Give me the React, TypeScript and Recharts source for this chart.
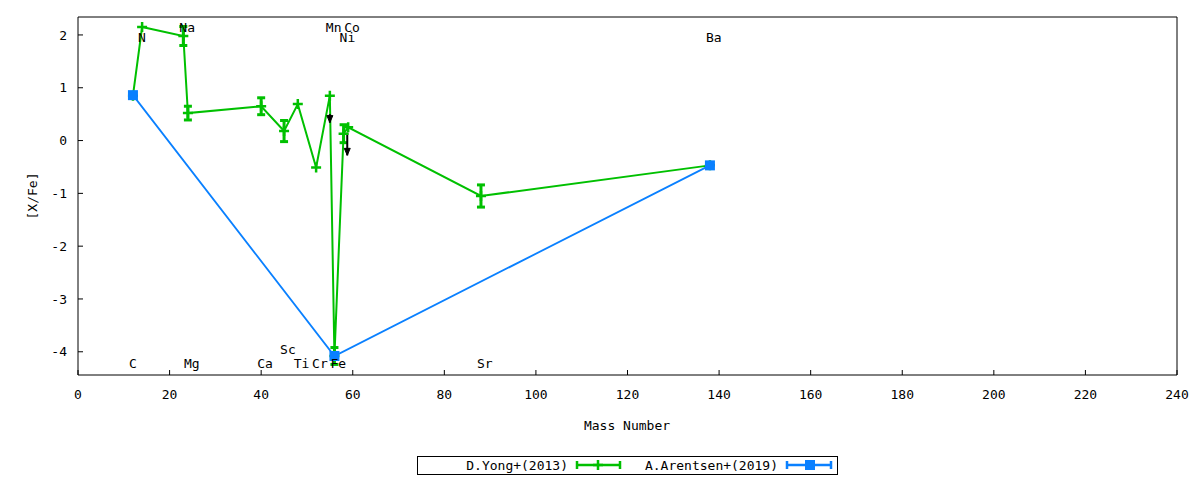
import React from 'react';
import { ComposedChart, Line, Scatter, XAxis, YAxis, ErrorBar, ReferenceLine } from 'recharts';

// D.Yong+(2013)
const yongMass = [12, 14, 23, 24, 40, 45, 48, 52, 55, 56, 58, 59, 88, 138];
const yongValue = [0.85, 2.15, 1.98, 0.52, 0.65, 0.18, 0.69, -0.51, 0.85, -4.08, 0.13, 0.25, -1.05, -0.47];
const yongError = [0, 0, 0.18, 0.13, 0.16, 0.2, 0, 0, 0, 0.16, 0.17, 0, 0.21, 0];

// A.Arentsen+(2019)
const arentsenMass = [12, 56, 138];
const arentsenValue = [0.86, -4.08, -0.47];
const arentsenError = [0, 0, 0];

// element labels
const elementNames = ['C', 'N', 'Na', 'Mg', 'Ca', 'Sc', 'Ti', 'Cr', 'Mn', 'Fe', 'Co', 'Ni', 'Sr', 'Ba'];
const elementMass = [12, 14, 23, 24, 40, 45, 48, 52, 55, 56, 59, 58, 88, 138];
const elementLabelY = [-4.22, 1.95, 2.15, -4.22, -4.22, -3.96, -4.22, -4.22, 2.15, -4.22, 2.15, 1.95, -4.22, 1.95];

// upper-limit arrows
const limitMass = [55, 58.8];
const limitFrom = [0.5, 0.15];
const limitTo = [0.34, -0.28];

const xTicks = [0, 20, 40, 60, 80, 100, 120, 140, 160, 180, 200, 220, 240];
const yTicks = [-4, -3, -2, -1, 0, 1, 2];

const GREEN = '#00c000';
const BLUE = '#0a80ff';
const FONT = '"DejaVu Sans Mono", monospace';

const yongData = yongMass.map((m, i) => ({ mass: m, value: yongValue[i], err: yongError[i] }));
const arentsenData = arentsenMass.map((m, i) => ({ mass: m, value: arentsenValue[i], err: arentsenError[i] }));
const labelData = elementNames.map((n, i) => ({ name: n, mass: elementMass[i], value: elementLabelY[i] }));
const limitHeads = limitMass.map((m, i) => ({ mass: m, value: limitTo[i] }));

const tickStyle = { fontFamily: FONT, fontSize: 13, fill: '#000' };

const PlusDot = (p: any) => {
  const { cx, cy, index } = p;
  if (cx == null || cy == null) return <g key={`gp-${index}`} />;
  return (
    <path
      key={`gp-${index}`}
      d={`M${cx - 5},${cy}H${cx + 5}M${cx},${cy - 5}V${cy + 5}`}
      stroke={GREEN}
      strokeWidth={2.5}
      fill="none"
    />
  );
};

const SquareDot = (p: any) => {
  const { cx, cy, index } = p;
  if (cx == null || cy == null) return <g key={`bs-${index}`} />;
  return <rect key={`bs-${index}`} x={cx - 5} y={cy - 5} width={10} height={10} fill={BLUE} />;
};

const LabelShape = (p: any) => {
  const { cx, cy, payload } = p;
  return (
    <text x={cx - 4} y={cy} dominantBaseline="central" textAnchor="start" fontFamily={FONT} fontSize={13} fill="#000">
      {payload.name}
    </text>
  );
};

const ArrowHead = (p: any) => {
  const { cx, cy } = p;
  return <path d={`M${cx - 3},${cy - 7}L${cx + 3},${cy - 7}L${cx},${cy}Z`} fill="#000" stroke="#000" strokeWidth={1} />;
};

export default function App() {
  return (
    <div style={{ position: 'absolute', left: 0, top: 0, width: 1200, height: 480, background: '#fff' }}>
      <ComposedChart width={1200} height={480} margin={{ top: 16, right: 22, left: 0, bottom: 75 }}>
        <XAxis
          type="number"
          dataKey="mass"
          domain={[0, 240]}
          ticks={xTicks}
          allowDataOverflow
          height={30}
          tickSize={-5}
          tickMargin={20}
          tick={tickStyle}
          axisLine={{ stroke: '#000' }}
          tickLine={{ stroke: '#000' }}
        />
        <XAxis
          xAxisId="top"
          orientation="top"
          type="number"
          dataKey="mass"
          domain={[0, 240]}
          ticks={xTicks}
          allowDataOverflow
          height={1}
          tickSize={-5}
          tick={false}
          axisLine={{ stroke: '#000' }}
          tickLine={{ stroke: '#000' }}
        />
        <YAxis
          type="number"
          domain={[-4.44, 2.34]}
          ticks={yTicks}
          allowDataOverflow
          width={78}
          tickSize={-5}
          tickMargin={16}
          tick={tickStyle}
          axisLine={{ stroke: '#000' }}
          tickLine={{ stroke: '#000' }}
        />
        <YAxis
          yAxisId="right"
          orientation="right"
          type="number"
          domain={[-4.44, 2.34]}
          ticks={yTicks}
          allowDataOverflow
          width={1}
          tickSize={-5}
          tick={false}
          axisLine={{ stroke: '#000' }}
          tickLine={{ stroke: '#000' }}
        />
        <Line
          data={yongData}
          dataKey="value"
          stroke={GREEN}
          strokeWidth={2}
          dot={PlusDot}
          activeDot={false}
          isAnimationActive={false}
          legendType="none"
        >
          <ErrorBar dataKey="err" direction="y" width={4} stroke={GREEN} strokeWidth={3} />
        </Line>
        <Line
          data={arentsenData}
          dataKey="value"
          stroke={BLUE}
          strokeWidth={1.8}
          dot={SquareDot}
          activeDot={false}
          isAnimationActive={false}
          legendType="none"
        >
          <ErrorBar dataKey="err" direction="y" width={4} stroke={BLUE} strokeWidth={2} />
        </Line>
        {limitMass.map((m, i) => (
          <ReferenceLine
            key={`lim-${i}`}
            segment={[{ x: m, y: limitFrom[i] }, { x: m, y: limitTo[i] }]}
            stroke="#000"
            strokeWidth={2}
            ifOverflow="visible"
          />
        ))}
        <Scatter data={limitHeads} dataKey="value" shape={ArrowHead} isAnimationActive={false} legendType="none" />
        <Scatter data={labelData} dataKey="value" shape={LabelShape} isAnimationActive={false} legendType="none" />
      </ComposedChart>
      <svg
        width={1200}
        height={480}
        style={{ position: 'absolute', left: 0, top: 0, pointerEvents: 'none' }}
      >
        <text x={627} y={425} textAnchor="middle" dominantBaseline="central" fontFamily={FONT} fontSize={13} fill="#000">
          Mass Number
        </text>
        <text
          x={32}
          y={196}
          textAnchor="middle"
          dominantBaseline="central"
          fontFamily={FONT}
          fontSize={13}
          fill="#000"
          transform="rotate(-90 32 196)"
        >
          [X/Fe]
        </text>
        <rect x={417.5} y={456.5} width={420} height={18} fill="none" stroke="#000" strokeWidth={1} />
        <text x={568} y={465.5} textAnchor="end" dominantBaseline="central" fontFamily={FONT} fontSize={13} fill="#000">
          D.Yong+(2013)
        </text>
        <path d="M577,465H620M577,461V469M620,461V469" stroke={GREEN} strokeWidth={2.5} fill="none" />
        <path d="M593,465H603M598,460V470" stroke={GREEN} strokeWidth={2.5} fill="none" />
        <text x={778} y={465.5} textAnchor="end" dominantBaseline="central" fontFamily={FONT} fontSize={13} fill="#000">
          A.Arentsen+(2019)
        </text>
        <path d="M787,465H831M787,461V469M831,461V469" stroke={BLUE} strokeWidth={2.5} fill="none" />
        <rect x={805} y={460} width={10} height={10} fill={BLUE} />
      </svg>
    </div>
  );
}
